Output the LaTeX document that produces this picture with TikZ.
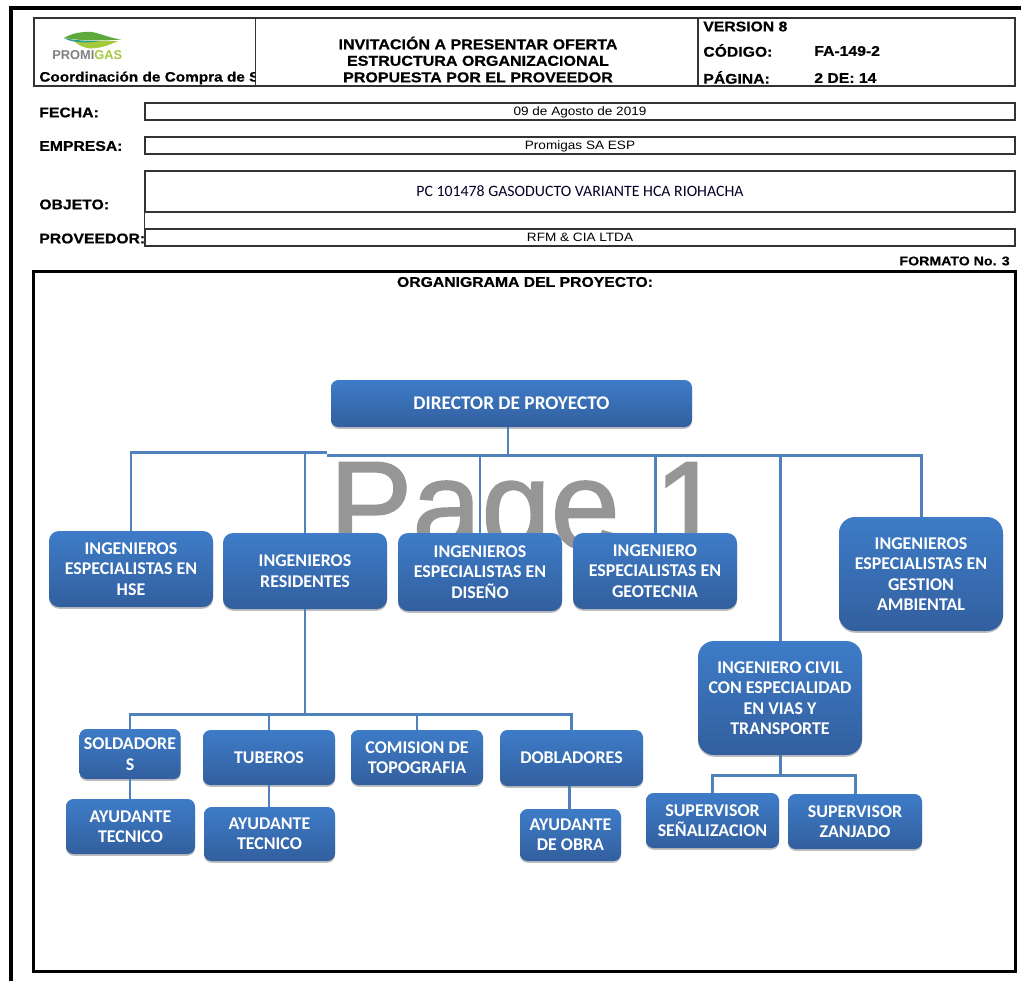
\documentclass[tikz,border=0pt]{standalone}
\usepackage{fontspec}
\usepackage{tikz}
\usetikzlibrary{shadows}
\setmainfont{Carlito}
\newfontfamily\formfont[FakeStretch=1.12,BoldFeatures={FakeBold=0.6}]{Liberation Sans}
\newfontfamily\markfont{Liberation Sans}
\newfontfamily\pagefont[FakeBold=1.4]{Liberation Sans}
\definecolor{boxTop}{HTML}{3E7CC8}
\definecolor{boxBot}{HTML}{325F9E}
\definecolor{lineBlue}{HTML}{4F81BD}
\definecolor{leafGreen}{HTML}{5FA83C}
\definecolor{leafLime}{HTML}{A5C93D}
\definecolor{leafTeal}{HTML}{2E9E86}
\tikzset{
  boxsize/.style 2 args={minimum width=#1*0.02cm, minimum height=#2*0.02cm},
  orgbox/.style={rounded corners=0.2cm, top color=boxTop, bottom color=boxBot, text=white,
    font=\bfseries\fontsize{10.2}{11.6}\selectfont, align=center, inner sep=0pt,
    drop shadow={shadow xshift=0cm, shadow yshift=-0.035cm, opacity=0.25, fill=black}},
  orgline/.style={draw=lineBlue, line width=1.7pt},
  formbox/.style={draw=black!80, line width=0.7pt, inner sep=0pt, text height=5pt, text depth=0pt,
    font=\formfont\fontsize{6.9}{8}\selectfont},
  formlabel/.style={font=\formfont\bfseries\fontsize{8}{9.4}\selectfont, inner sep=0pt}
}

\begin{document}
\begin{tikzpicture}[x=0.02cm,y=-0.02cm]
  \useasboundingbox (0,0) rectangle (1021,981);
  % page frame
  \draw[line width=1.9pt] (11,981) -- (11,8) -- (1021,8);
  \draw[line width=1.7pt] (33.5,271) rectangle (1015,971);

  % form header
  \node[formbox, boxsize={981}{68}] (headBox) at (524.5,52) {};
  \draw[draw=black!80, line width=0.7pt] (255.5,18) -- (255.5,86);
  \draw[draw=black!80, line width=0.7pt] (698,18) -- (698,86);
  \fill[leafLime] (74,41) .. controls (88,41) and (105,41) .. (118,41) .. controls (108,46) and (98,48.5) .. (90,48.5)
    .. controls (84,48) and (78,45) .. (74,41);
  \fill[leafTeal] (64,38) .. controls (72,40) and (85,41) .. (100,41) .. controls (90,43) and (72,43.5) .. (64,38);
  \fill[leafGreen] (64,38) .. controls (72,33) and (82,31.5) .. (92,32) .. controls (102,34) and (110,38) .. (121,39.5)
    .. controls (105,41) and (82,41) .. (64,38);
  \node[inner sep=0pt, anchor=west, font=\markfont\bfseries\fontsize{7.3}{9}\selectfont] (logoText) at (52,55)
    {\textcolor{black!50}{PROMI}\textcolor{leafLime}{GAS}};
  \begin{scope}
    \clip (34,18) rectangle (255,86);
    \node[formlabel, anchor=west, font=\formfont\bfseries\fontsize{7.8}{9.4}\selectfont] (coord) at (39,78) {Coordinación de Compra de S};
  \end{scope}
  \node[formlabel, align=center, font=\formfont\bfseries\fontsize{8.15}{9.4}\selectfont] (title) at (478,59.5) {INVITACIÓN A PRESENTAR OFERTA\\ESTRUCTURA ORGANIZACIONAL\\PROPUESTA POR EL PROVEEDOR};
  \node[formlabel, anchor=west] (version) at (703,26.5) {VERSION 8};
  \node[formlabel, anchor=west] (codigo) at (703,50.5) {CÓDIGO:};
  \node[formlabel, anchor=west] (codigoVal) at (814,51) {FA-149-2};
  \node[formlabel, anchor=west] (pagina) at (703,77.5) {PÁGINA:};
  \node[formlabel, anchor=west] (paginaVal) at (814,78) {2 DE: 14};

  % form fields
  \node[formlabel, anchor=west] (fecha) at (39,112.5) {FECHA:};
  \node[formlabel, anchor=west] (empresa) at (39,146) {EMPRESA:};
  \node[formlabel, anchor=west] (objeto) at (39,204.5) {OBJETO:};
  \node[formlabel, anchor=west] (proveedor) at (39,238.5) {PROVEEDOR:};
  \node[formbox, boxsize={870}{17}] (fechaBox) at (580,111.5) {09 de Agosto de 2019};
  \node[formbox, boxsize={870}{17}] (empresaBox) at (580,145.5) {Promigas SA ESP};
  \node[formbox, boxsize={870}{41}] (objetoBox) at (580,191.5) {};
  \node[font=\fontsize{9}{10}\selectfont, text=black!85!blue, inner sep=0pt] (objetoText) at (580,191) {PC 101478 GASODUCTO VARIANTE HCA RIOHACHA};
  \node[formbox, boxsize={870}{17}] (provBox) at (580,237.5) {RFM \& CIA LTDA};
  \draw[draw=black!80, line width=0.7pt] (objetoBox.south west) -- (provBox.north west);
  \node[formlabel, anchor=east, font=\formfont\bfseries\fontsize{7.2}{8}\selectfont] (formato) at (1010,261) {FORMATO No. 3};
  \node[formlabel] (orgTitle) at (525,282) {ORGANIGRAMA DEL PROYECTO:};

  % watermark
  \node[anchor=base west, inner sep=0pt, text=black!41, font=\pagefont\fontsize{70.8}{72}\selectfont] (pageMark) at (329,548) {Page 1};

  % org chart
  \node[orgbox, boxsize={361}{47}, rounded corners=0.15cm, font=\bfseries\fontsize{11}{12}\selectfont] (director) at (511.5,403.5) {DIRECTOR DE PROYECTO};
  \node[orgbox, boxsize={164}{76}] (hse) at (131,569) {INGENIEROS\\ESPECIALISTAS EN\\HSE};
  \node[orgbox, boxsize={164}{76}] (residentes) at (305,571) {INGENIEROS\\RESIDENTES};
  \node[orgbox, boxsize={164}{78}] (diseno) at (480,572) {INGENIEROS\\ESPECIALISTAS EN\\DISEÑO};
  \node[orgbox, boxsize={164}{76}] (geotecnia) at (655,571) {INGENIERO\\ESPECIALISTAS EN\\GEOTECNIA};
  \node[orgbox, boxsize={164}{114}, rounded corners=0.32cm] (ambiental) at (921,574) {INGENIEROS\\ESPECIALISTAS EN\\GESTION\\AMBIENTAL};
  \node[orgbox, boxsize={164}{114}, rounded corners=0.32cm] (civil) at (780,698) {INGENIERO CIVIL\\CON ESPECIALIDAD\\EN VIAS Y\\TRANSPORTE};
  \node[orgbox, boxsize={101}{50}, rounded corners=0.14cm] (soldadores) at (130,754) {SOLDADORE\\S};
  \node[orgbox, boxsize={132}{55}, rounded corners=0.15cm] (tuberos) at (269,757.5) {TUBEROS};
  \node[orgbox, boxsize={132}{55}, rounded corners=0.15cm] (topografia) at (417,757.5) {COMISION DE\\TOPOGRAFIA};
  \node[orgbox, boxsize={143}{56}, rounded corners=0.15cm] (dobladores) at (571.5,758) {DOBLADORES};
  \node[orgbox, boxsize={129}{55}, rounded corners=0.15cm] (ayudanteA) at (130.5,826.5) {AYUDANTE\\TECNICO};
  \node[orgbox, boxsize={131}{54}, rounded corners=0.15cm] (ayudanteB) at (269.5,834) {AYUDANTE\\TECNICO};
  \node[orgbox, boxsize={101}{52}, rounded corners=0.15cm] (ayudanteC) at (570.5,835) {AYUDANTE\\DE OBRA};
  \node[orgbox, boxsize={133}{55}, rounded corners=0.15cm] (senal) at (712.5,820.5) {SUPERVISOR\\SEÑALIZACION};
  \node[orgbox, boxsize={134}{55}, rounded corners=0.15cm] (zanjado) at (855,821.5) {SUPERVISOR\\ZANJADO};

  \coordinate (busL) at (327,452.5);
  \coordinate (busR) at (327,455);
  \coordinate (busTop) at (508,455);
  \coordinate (busObra) at (305,714.5);
  \coordinate (busCivil) at (780,775);
  \coordinate (dropObra) at (569,800);
  \draw[orgline] (busTop |- director.south) -- (busTop);
  \draw[orgline] (hse.north) |- (busL);
  \draw[orgline] (residentes.north) |- (busL);
  \draw[orgline] (diseno.north) |- (busR);
  \draw[orgline] (geotecnia.north) |- (busR);
  \draw[orgline] (civil.north) |- (busR);
  \draw[orgline] (ambiental.north) |- (busR);
  \draw[orgline] (residentes.south) -- (busObra);
  \draw[orgline] (soldadores.north) |- (busObra);
  \draw[orgline] (tuberos.north) |- (busObra);
  \draw[orgline] (topografia.north) |- (busObra);
  \draw[orgline] (dobladores.north) |- (busObra);
  \draw[orgline] (soldadores.south) -- (soldadores.south |- ayudanteA.north);
  \draw[orgline] (tuberos.south) -- (tuberos.south |- ayudanteB.north);
  \draw[orgline] (dropObra |- dobladores.south) -- (dropObra |- ayudanteC.north);
  \draw[orgline] (civil.south) -- (busCivil);
  \draw[orgline] (senal.north) |- (busCivil);
  \draw[orgline] (zanjado.north) |- (busCivil);
\end{tikzpicture}
\end{document}
